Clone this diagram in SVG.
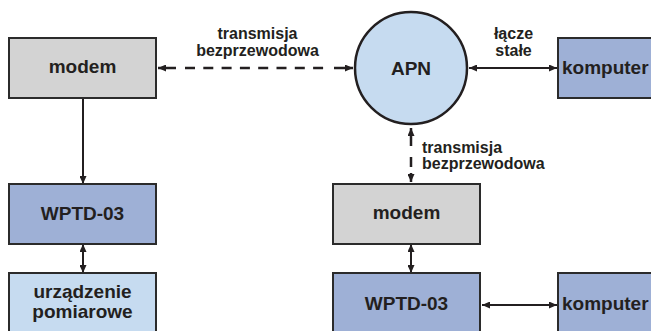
<svg xmlns="http://www.w3.org/2000/svg" width="651" height="331" viewBox="0 0 651 331">
<style>
.box{stroke:#2b2b2b;stroke-width:2}
.gray{fill:#d3d3d3}
.blue{fill:#9eb0d6}
.light{fill:#c6dbf0}
.nt{font-family:"Liberation Sans",Arial,sans-serif;font-weight:bold;font-size:19px;fill:#231f20}
.lt{font-family:"Liberation Sans",Arial,sans-serif;font-weight:bold;font-size:16px;fill:#231f20}
.c{text-anchor:middle}
.ln{stroke:#231f20;stroke-width:2;fill:none}
.dl{stroke:#231f20;stroke-width:2.5;fill:none}
</style>
<defs>
<marker id="ah" viewBox="0 0 8 7" refX="8" refY="3.5" markerWidth="8" markerHeight="7" markerUnits="userSpaceOnUse" orient="auto-start-reverse">
<path d="M0 0L8 3.5L0 7z" fill="#231f20"/>
</marker>
</defs>
<rect width="651" height="331" fill="#ffffff"/>
<g id="connectors">
<path class="dl" d="M158 68H176M185 68H195M203.3 68H213.3M221.6 68H231.6M239.9 68H249.9M258.2 68H268.2M276.5 68H286.5M294.8 68H304.8M313.1 68H323.1M334 68H353" marker-start="url(#ah)" marker-end="url(#ah)"/>
<path class="ln" d="M469 68H557" marker-start="url(#ah)" marker-end="url(#ah)"/>
<path class="ln" d="M83 99V184" marker-end="url(#ah)"/>
<path class="ln" d="M83 244V273" marker-start="url(#ah)" marker-end="url(#ah)"/>
<path class="dl" d="M411 128V146M411 157V167M411 173V182" marker-start="url(#ah)" marker-end="url(#ah)"/>
<path class="ln" d="M411 244V273" marker-start="url(#ah)" marker-end="url(#ah)"/>
<path class="ln" d="M482 305H557" marker-start="url(#ah)" marker-end="url(#ah)"/>
</g>
<g id="modem1">
<rect class="box gray" x="9" y="38" width="147" height="60"/>
<text class="nt c" x="82.5" y="73">modem</text>
</g>
<g id="apn">
<circle class="light" cx="411" cy="68" r="56" stroke="#231f20" stroke-width="2.5"/>
<text class="nt c" x="411" y="74.5">APN</text>
</g>
<g id="komputer1">
<rect class="box blue" x="558" y="38" width="147" height="60"/>
<text class="nt" x="562" y="74">komputer</text>
</g>
<g id="wptd1">
<rect class="box blue" x="9" y="184" width="147" height="60"/>
<text class="nt c" x="82.5" y="220">WPTD-03</text>
</g>
<g id="urzadzenie">
<rect class="box light" x="9" y="273" width="147" height="70"/>
<text class="nt c" x="82.5" y="297.5">urządzenie</text>
<text class="nt c" x="82.5" y="317.5">pomiarowe</text>
</g>
<g id="modem2">
<rect class="box gray" x="333" y="184" width="147" height="60"/>
<text class="nt c" x="406.5" y="219">modem</text>
</g>
<g id="wptd2">
<rect class="box blue" x="333" y="273" width="147" height="70"/>
<text class="nt c" x="406.5" y="309.5">WPTD-03</text>
</g>
<g id="komputer2">
<rect class="box blue" x="558" y="273" width="147" height="70"/>
<text class="nt" x="562" y="309.5">komputer</text>
</g>
<g id="labels">
<text class="lt c" x="257.5" y="39">transmisja</text>
<text class="lt c" x="257.5" y="55.5">bezprzewodowa</text>
<text class="lt c" x="513.5" y="39">łącze</text>
<text class="lt c" x="513.5" y="55.5">stałe</text>
<text class="lt" x="422" y="152.5">transmisja</text>
<text class="lt" x="422" y="168.5">bezprzewodowa</text>
</g>
</svg>
